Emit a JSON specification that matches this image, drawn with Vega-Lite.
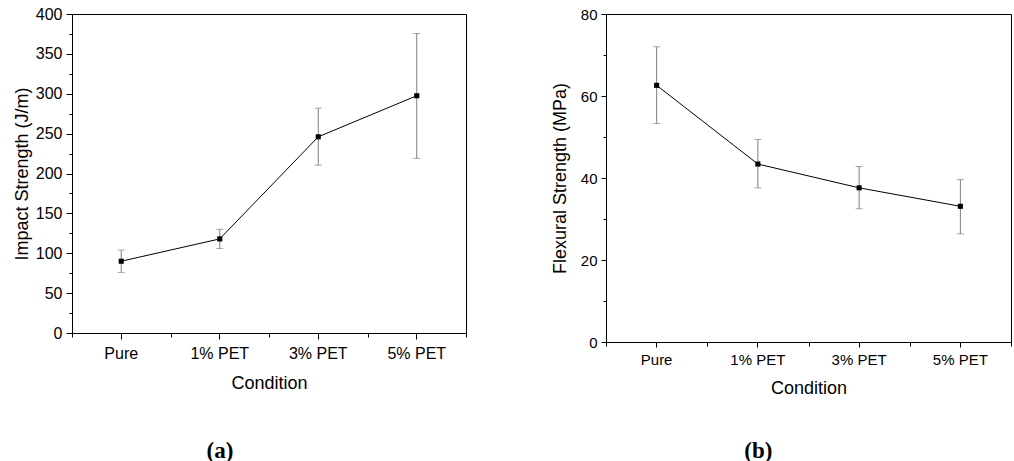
{
  "$schema": "https://vega.github.io/schema/vega-lite/v6.json",
  "background": "white",
  "padding": {"left": 12, "top": 5, "right": 0, "bottom": 0},
  "spacing": 83,
  "datasets": {
    "impact": [
      {"condition": "Pure", "mean": 90, "lo": 76, "hi": 104},
      {"condition": "1% PET", "mean": 118, "lo": 106, "hi": 130},
      {"condition": "3% PET", "mean": 246, "lo": 210.5, "hi": 282},
      {"condition": "5% PET", "mean": 297.5, "lo": 219, "hi": 375.5}
    ],
    "flexural": [
      {"condition": "Pure", "mean": 62.6, "lo": 53.3, "hi": 72.0},
      {"condition": "1% PET", "mean": 43.4, "lo": 37.6, "hi": 49.4},
      {"condition": "3% PET", "mean": 37.6, "lo": 32.5, "hi": 42.8},
      {"condition": "5% PET", "mean": 33.1, "lo": 26.4, "hi": 39.6}
    ]
  },
  "hconcat": [
    {
      "width": 394,
      "height": 319,
      "data": {"name": "impact"},
      "title": {"text": "(a)", "orient": "bottom", "anchor": "middle", "frame": "bounds", "dx": -20, "offset": 48, "font": "Liberation Serif", "fontSize": 23, "fontWeight": "bold", "color": "black"},
      "resolve": {"axis": {"x": "independent"}},
      "layer": [
        {
          "mark": {"type": "errorbar", "ticks": {"size": 7, "color": "#7f7f7f", "thickness": 1}, "rule": {"color": "#7f7f7f", "strokeWidth": 1}},
          "encoding": {
            "x": {"field": "condition", "type": "nominal", "sort": ["Pure", "1% PET", "3% PET", "5% PET"], "scale": {"type": "band", "paddingInner": 0, "paddingOuter": 0},
              "axis": {"orient": "bottom", "title": "Condition", "labelAngle": 0, "labelFontSize": 16, "titleFontSize": 18, "tickSize": 6, "labelPadding": 6, "titlePadding": 13}},
            "y": {"field": "lo", "type": "quantitative", "scale": {"domain": [0, 400], "nice": false},
              "axis": {"title": "Impact Strength (J/m)", "values": [0,25,50,75,100,125,150,175,200,225,250,275,300,325,350,375,400], "labelOverlap": false, "labelSeparation": 0, "labelExpr": "datum.value % 50 === 0 ? datum.label : ''", "tickSize": {"condition": {"test": "datum.value % 50 === 0", "value": 6}, "value": 3}, "labelFontSize": 16, "titleFontSize": 18, "labelPadding": 4, "titlePadding": 4}},
            "y2": {"field": "hi"}
          }
        },
        {
          "mark": {"type": "line", "color": "black", "strokeWidth": 1},
          "encoding": {
            "x": {"field": "condition", "type": "nominal", "sort": ["Pure", "1% PET", "3% PET", "5% PET"], "scale": {"type": "band", "paddingInner": 0, "paddingOuter": 0},
              "axis": {"orient": "bottom", "title": null, "labels": false, "domain": false, "tickBand": "extent", "tickSize": 4}},
            "y": {"field": "mean", "type": "quantitative",
              "axis": {"title": "Impact Strength (J/m)", "values": [0,25,50,75,100,125,150,175,200,225,250,275,300,325,350,375,400], "labelOverlap": false, "labelSeparation": 0, "labelExpr": "datum.value % 50 === 0 ? datum.label : ''", "tickSize": {"condition": {"test": "datum.value % 50 === 0", "value": 6}, "value": 3}, "labelFontSize": 16, "titleFontSize": 18, "labelPadding": 4, "titlePadding": 4}}
          }
        },
        {
          "mark": {"type": "point", "shape": "square", "filled": true, "color": "black", "size": 26, "opacity": 1},
          "encoding": {
            "x": {"field": "condition", "type": "nominal", "sort": ["Pure", "1% PET", "3% PET", "5% PET"], "axis": null},
            "y": {"field": "mean", "type": "quantitative",
              "axis": {"title": "Impact Strength (J/m)", "values": [0,25,50,75,100,125,150,175,200,225,250,275,300,325,350,375,400], "labelOverlap": false, "labelSeparation": 0, "labelExpr": "datum.value % 50 === 0 ? datum.label : ''", "tickSize": {"condition": {"test": "datum.value % 50 === 0", "value": 6}, "value": 3}, "labelFontSize": 16, "titleFontSize": 18, "labelPadding": 4, "titlePadding": 4}}
          }
        }
      ]
    },
    {
      "width": 405,
      "height": 328,
      "data": {"name": "flexural"},
      "title": {"text": "(b)", "orient": "bottom", "anchor": "middle", "frame": "bounds", "dx": -23, "offset": 43, "font": "Liberation Serif", "fontSize": 23, "fontWeight": "bold", "color": "black"},
      "resolve": {"axis": {"x": "independent"}},
      "layer": [
        {
          "mark": {"type": "errorbar", "ticks": {"size": 7, "color": "#7f7f7f", "thickness": 1}, "rule": {"color": "#7f7f7f", "strokeWidth": 1}},
          "encoding": {
            "x": {"field": "condition", "type": "nominal", "sort": ["Pure", "1% PET", "3% PET", "5% PET"], "scale": {"type": "band", "paddingInner": 0, "paddingOuter": 0},
              "axis": {"orient": "bottom", "title": "Condition", "labelAngle": 0, "labelFontSize": 15, "titleFontSize": 18, "tickSize": 5, "labelPadding": 5, "titlePadding": 12}},
            "y": {"field": "lo", "type": "quantitative", "scale": {"domain": [0, 80], "nice": false},
              "axis": {"title": "Flexural Strength (MPa)", "values": [0,10,20,30,40,50,60,70,80], "labelOverlap": false, "labelExpr": "datum.value % 20 === 0 ? datum.label : ''", "tickSize": {"condition": {"test": "datum.value % 20 === 0", "value": 5}, "value": 3}, "labelFontSize": 15, "titleFontSize": 18, "labelPadding": 4, "titlePadding": 11}},
            "y2": {"field": "hi"}
          }
        },
        {
          "mark": {"type": "line", "color": "black", "strokeWidth": 1},
          "encoding": {
            "x": {"field": "condition", "type": "nominal", "sort": ["Pure", "1% PET", "3% PET", "5% PET"], "scale": {"type": "band", "paddingInner": 0, "paddingOuter": 0},
              "axis": {"orient": "bottom", "title": null, "labels": false, "domain": false, "tickBand": "extent", "tickSize": 4}},
            "y": {"field": "mean", "type": "quantitative"}
          }
        },
        {
          "mark": {"type": "point", "shape": "square", "filled": true, "color": "black", "size": 26, "opacity": 1},
          "encoding": {
            "x": {"field": "condition", "type": "nominal", "sort": ["Pure", "1% PET", "3% PET", "5% PET"], "axis": null},
            "y": {"field": "mean", "type": "quantitative"}
          }
        }
      ]
    }
  ],
  "config": {
    "view": {"stroke": "black", "strokeWidth": 1},
    "axisY": {"labelOverlap": false},
    "axis": {"grid": false, "domainColor": "black", "tickColor": "black", "labelColor": "black", "titleColor": "black", "labelFont": "Liberation Sans", "titleFont": "Liberation Sans", "titleFontWeight": "normal", "domainWidth": 1, "tickWidth": 1}
  }
}
